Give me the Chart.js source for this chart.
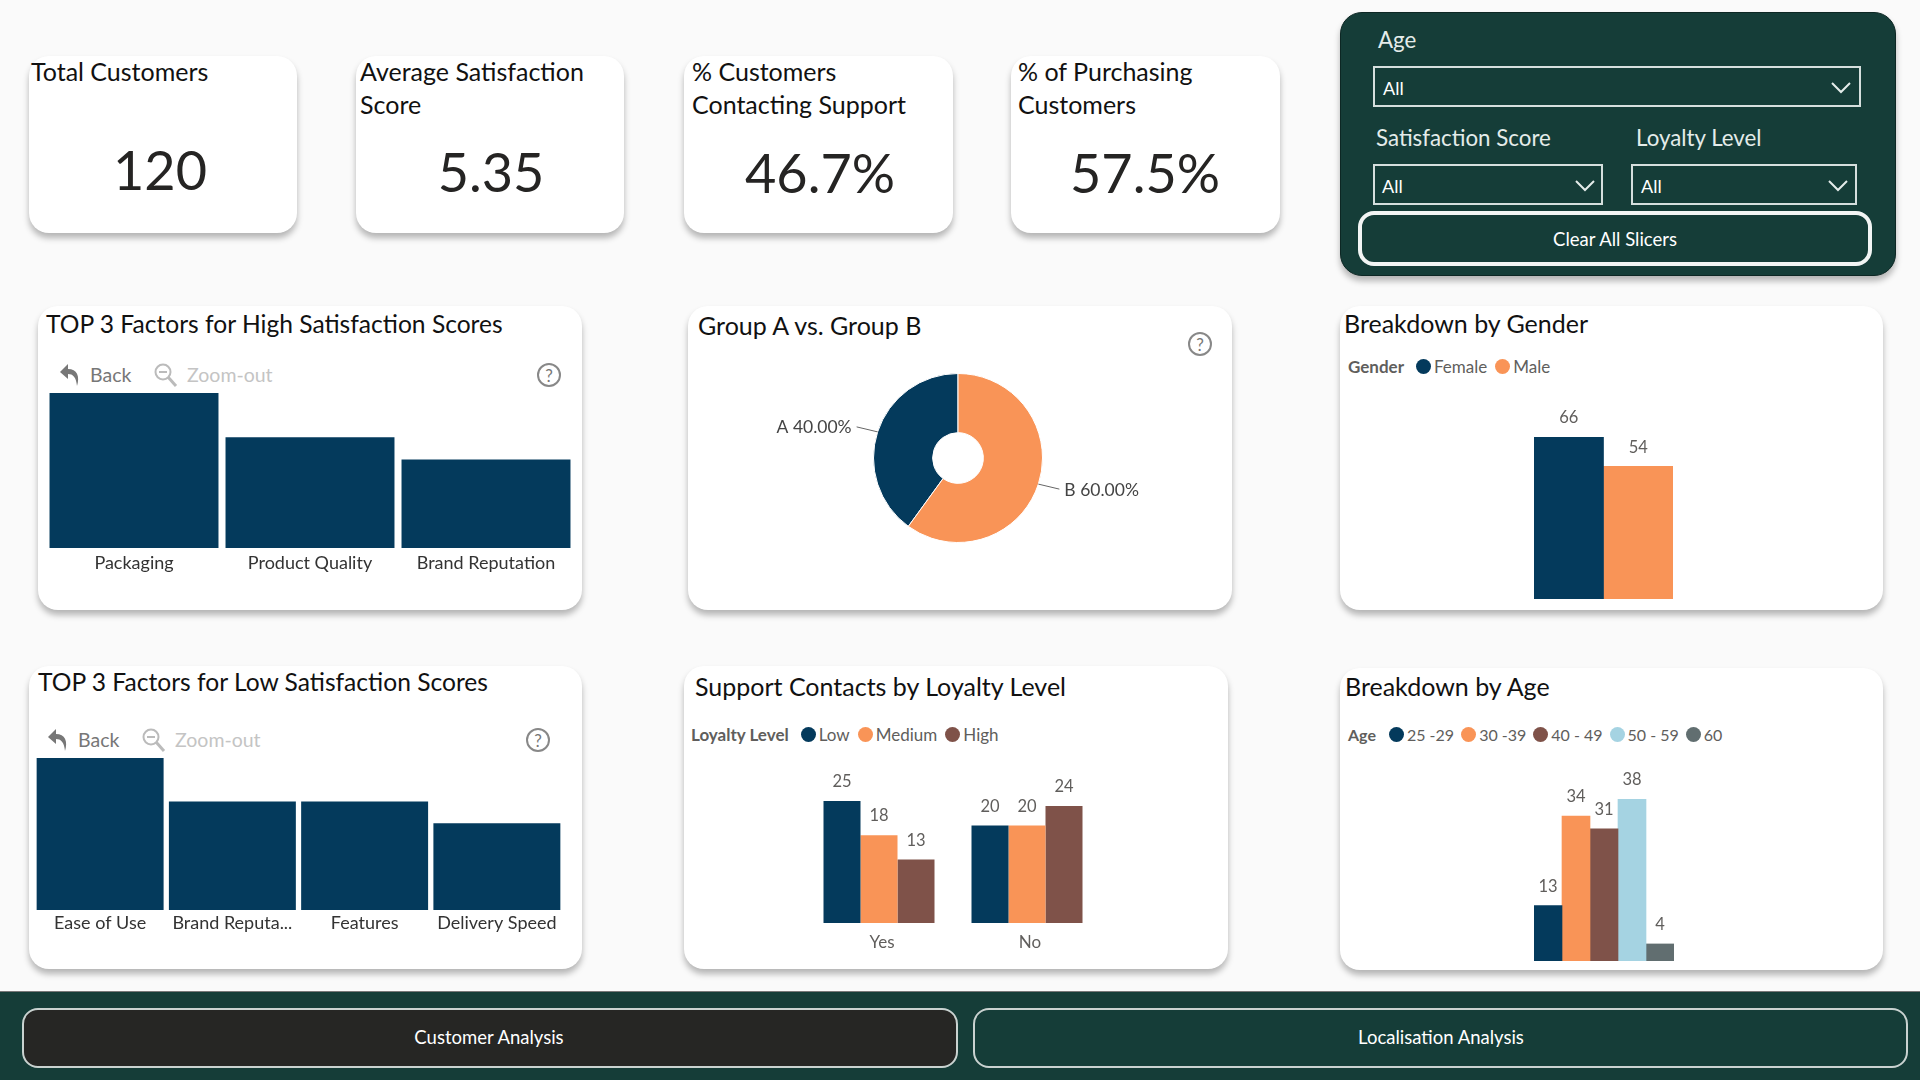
<!DOCTYPE html>
<html lang="en">

<head>
  <meta charset="UTF-8">
  <title>Customer Analysis</title>
  <script src="https://cdn.jsdelivr.net/npm/chart.js"></script>
  <style>
    html, body {
      margin: 0;
      width: 1920px;
      height: 1080px;
      overflow: hidden;
      background: #fafafa;
      font-family: Lato, sans-serif;
      color: #252423;
    }

    .card, .panel, .band, .btn, .drop, .t, .c, canvas, svg, .legend {
      position: absolute;
    }

    .card {
      background: #fff;
      border-radius: 20px;
      box-shadow: 0 5px 6px rgba(0, 0, 0, .28);
    }

    .panel {
      left: 1340px; top: 12px; width: 556px; height: 264px;
      background: #153d38;
      border: 1px solid #0d2724;
      box-sizing: border-box;
      border-radius: 22px;
      box-shadow: 0 5px 6px rgba(0, 0, 0, .28);
    }

    .band {
      left: 0; top: 991px; width: 1920px; height: 89px;
      background: #153d38;
      border-top: 1px solid #777;
      box-sizing: border-box;
    }

    .t, .c { white-space: nowrap; line-height: 1; }
    .t { transform: translateY(-50%); }
    .c { transform: translate(-50%, -50%); }

    .kpi-title { font-size: 25px; color: #111; }
    .kpi-value { font-size: 54px; color: #252423; }
    .title { font-size: 25px; color: #111; }
    .title.long { font-size: 24.6px; }
    .tool { font-size: 19.5px; color: #777; }
    .tool.off { color: #c4c4c4; }
    .help { font-size: 17px; color: #777; }

    .slicer-label { font-size: 22.3px; color: #e4ecea; }
    .slicer-value { font-size: 18px; color: #fff; }
    .drop { border: 2px solid #d5dfdd; box-sizing: border-box; }
    .btn { box-sizing: border-box; border-radius: 16px; }
    .btn-text { font-size: 18.5px; color: #fff; }

    .legend {
      display: flex;
      align-items: center;
      height: 20px;
      font-size: 17px;
      color: #605e5c;
      white-space: nowrap;
    }
    .legend b { margin-right: 12px; }
    .legend i {
      width: 15px; height: 15px;
      border-radius: 50%;
      margin-right: 3px;
    }
    .legend span { margin-right: 8px; }
    #legendAge { font-size: 16px; }
    #legendAge b { margin-right: 13px; }
    #legendAge span { margin-right: 7px; }
  </style>
</head>

<body>
  <!-- KPI cards -->
  <div class="card" style="left:29px;top:56px;width:268px;height:177px"></div>
  <div class="card" style="left:356px;top:56px;width:268px;height:177px"></div>
  <div class="card" style="left:684px;top:56px;width:269px;height:177px"></div>
  <div class="card" style="left:1011px;top:56px;width:269px;height:177px"></div>

  <div class="t kpi-title" style="left:31px;top:71px">Total Customers</div>
  <div class="t kpi-title" style="left:360px;top:71px">Average Satisfaction</div>
  <div class="t kpi-title" style="left:360px;top:104px">Score</div>
  <div class="t kpi-title" style="left:692px;top:71px">% Customers</div>
  <div class="t kpi-title" style="left:692px;top:104px">Contacting Support</div>
  <div class="t kpi-title" style="left:1018px;top:71px">% of Purchasing</div>
  <div class="t kpi-title" style="left:1018px;top:104px">Customers</div>

  <div class="c kpi-value" style="left:160px;top:170px">120</div>
  <div class="c kpi-value" style="left:491px;top:172px">5.35</div>
  <div class="c kpi-value" style="left:820px;top:173px">46.7%</div>
  <div class="c kpi-value" style="left:1145px;top:173px">57.5%</div>

  <!-- Slicers -->
  <div class="panel"></div>
  <div class="t slicer-label" style="left:1378px;top:40px">Age</div>
  <div class="drop" style="left:1373px;top:66px;width:488px;height:41px"></div>
  <div class="t slicer-value" style="left:1383px;top:88px">All</div>
  <svg style="left:1831px;top:82px" width="20" height="12"><polyline points="1,1 10,10 19,1" fill="none" stroke="#e4ecea" stroke-width="2"/></svg>

  <div class="t slicer-label" style="left:1376px;top:138px">Satisfaction Score</div>
  <div class="t slicer-label" style="left:1636px;top:138px">Loyalty Level</div>
  <div class="drop" style="left:1373px;top:164px;width:230px;height:41px"></div>
  <div class="drop" style="left:1631px;top:164px;width:226px;height:41px"></div>
  <div class="t slicer-value" style="left:1382px;top:186px">All</div>
  <div class="t slicer-value" style="left:1641px;top:186px">All</div>
  <svg style="left:1575px;top:180px" width="20" height="12"><polyline points="1,1 10,10 19,1" fill="none" stroke="#e4ecea" stroke-width="2"/></svg>
  <svg style="left:1828px;top:180px" width="20" height="12"><polyline points="1,1 10,10 19,1" fill="none" stroke="#e4ecea" stroke-width="2"/></svg>

  <div class="btn" style="left:1358px;top:211px;width:514px;height:55px;border:4px solid #f2f5f4"></div>
  <div class="c btn-text" style="left:1615px;top:239px">Clear All Slicers</div>

  <!-- Chart cards -->
  <div class="card" style="left:38px;top:306px;width:544px;height:304px"></div>
  <div class="card" style="left:688px;top:306px;width:544px;height:304px"></div>
  <div class="card" style="left:1340px;top:306px;width:543px;height:304px"></div>
  <div class="card" style="left:29px;top:666px;width:553px;height:303px"></div>
  <div class="card" style="left:684px;top:666px;width:544px;height:303px"></div>
  <div class="card" style="left:1340px;top:668px;width:543px;height:302px"></div>

  <div class="t title long" style="left:46px;top:324px">TOP 3 Factors for High Satisfaction Scores</div>
  <div class="t title" style="left:698px;top:325px">Group A vs. Group B</div>
  <div class="t title" style="left:1344px;top:323px">Breakdown by Gender</div>
  <div class="t title long" style="left:38px;top:682px">TOP 3 Factors for Low Satisfaction Scores</div>
  <div class="t title" style="left:695px;top:686px">Support Contacts by Loyalty Level</div>
  <div class="t title" style="left:1345px;top:686px">Breakdown by Age</div>

  <!-- Drill toolbars and help icons -->
  <svg style="left:58px;top:362px" width="24" height="26" viewBox="0 0 24 26"><path d="M10 2 L2 10 L10 17 V12 C15 12 18 15 19 24 C22 14 19 7 10 7 Z" fill="#777"/></svg>
  <div class="t tool" style="left:90px;top:375px">Back</div>
  <svg style="left:153px;top:362px" width="26" height="26" viewBox="0 0 26 26"><circle cx="10" cy="10" r="7.5" fill="none" stroke="#bbb" stroke-width="2"/><line x1="6" y1="10" x2="14" y2="10" stroke="#bbb" stroke-width="2"/><line x1="15" y1="15" x2="23" y2="24" stroke="#bbb" stroke-width="3"/></svg>
  <div class="t tool off" style="left:187px;top:375px">Zoom-out</div>
  <svg style="left:537px;top:363px" width="24" height="24"><circle cx="12" cy="12" r="11" fill="none" stroke="#888" stroke-width="2"/></svg>
  <div class="c help" style="left:549px;top:375px">?</div>

  <svg style="left:1188px;top:332px" width="24" height="24"><circle cx="12" cy="12" r="11" fill="none" stroke="#888" stroke-width="2"/></svg>
  <div class="c help" style="left:1200px;top:344px">?</div>

  <svg style="left:46px;top:727px" width="24" height="26" viewBox="0 0 24 26"><path d="M10 2 L2 10 L10 17 V12 C15 12 18 15 19 24 C22 14 19 7 10 7 Z" fill="#777"/></svg>
  <div class="t tool" style="left:78px;top:740px">Back</div>
  <svg style="left:141px;top:727px" width="26" height="26" viewBox="0 0 26 26"><circle cx="10" cy="10" r="7.5" fill="none" stroke="#bbb" stroke-width="2"/><line x1="6" y1="10" x2="14" y2="10" stroke="#bbb" stroke-width="2"/><line x1="15" y1="15" x2="23" y2="24" stroke="#bbb" stroke-width="3"/></svg>
  <div class="t tool off" style="left:175px;top:740px">Zoom-out</div>
  <svg style="left:526px;top:728px" width="24" height="24"><circle cx="12" cy="12" r="11" fill="none" stroke="#888" stroke-width="2"/></svg>
  <div class="c help" style="left:538px;top:740px">?</div>

  <!-- Legends -->
  <div class="legend" id="legendGender" style="left:1348px;top:356px"></div>
  <div class="legend" id="legendLoyalty" style="left:691px;top:724px"></div>
  <div class="legend" id="legendAge" style="left:1348px;top:724px"></div>

  <!-- Charts -->
  <canvas id="highChart" width="528" height="185" style="left:46px;top:393px"></canvas>
  <canvas id="lowChart" width="529" height="182" style="left:34px;top:758px"></canvas>
  <canvas id="groupChart" width="540" height="300" style="left:688px;top:308px"></canvas>
  <canvas id="genderChart" width="139" height="202" style="left:1534px;top:397px"></canvas>
  <canvas id="loyaltyChart" width="296" height="197" style="left:805px;top:761px"></canvas>
  <canvas id="ageChart" width="140" height="202" style="left:1534px;top:759px"></canvas>

  <!-- Page navigation -->
  <div class="band"></div>
  <div class="btn" style="left:22px;top:1008px;width:936px;height:60px;background:#262624;border:2px solid #c9d2d0"></div>
  <div class="btn" style="left:973px;top:1008px;width:935px;height:60px;border:2px solid #c9d2d0"></div>
  <div class="c btn-text" style="left:489px;top:1037px">Customer Analysis</div>
  <div class="c btn-text" style="left:1441px;top:1037px">Localisation Analysis</div>

  <script>
    // Datos del grafico
    const highFactors = ['Packaging', 'Product Quality', 'Brand Reputation'];
    const highCounts = [7, 5, 4];

    const lowFactors = ['Ease of Use', 'Brand Reputa...', 'Features', 'Delivery Speed'];
    const lowCounts = [7, 5, 5, 4];

    const groupLabels = ['A', 'B'];
    const groupShares = [40, 60];

    const genderLabels = ['Female', 'Male'];
    const genderCounts = [66, 54];

    const supportAnswers = ['Yes', 'No'];
    const loyaltyLevels = ['Low', 'Medium', 'High'];
    const lowContacts = [25, 20];
    const mediumContacts = [18, 20];
    const highContacts = [13, 24];

    const ageLabels = ['25 -29', '30 -39', '40 - 49', '50 - 59', '60'];
    const ageCounts = [13, 34, 31, 38, 4];

    const navy = '#043a5c';
    const orange = '#f99457';
    const brown = '#7f5249';
    const lightBlue = '#a5d3e2';
    const slate = '#616e70';
    const palette = [navy, orange, brown, lightBlue, slate];

    Chart.defaults.font.family = 'Lato, sans-serif';
    Chart.defaults.animation = false;
    Chart.defaults.responsive = false;

    // Values above each bar, read from the bar elements
    const valueLabels = {
      id: 'valueLabels',
      afterDatasetsDraw(chart) {
        const ctx = chart.ctx;
        ctx.save();
        ctx.font = '16.5px Lato, sans-serif';
        ctx.fillStyle = '#605e5c';
        ctx.textAlign = 'center';
        ctx.textBaseline = 'middle';
        chart.data.datasets.forEach((ds, i) => {
          chart.getDatasetMeta(i).data.forEach((bar, j) => {
            ctx.fillText(ds.data[j], bar.x, bar.y - 19);
          });
        });
        ctx.restore();
      }
    };

    // Labels with leader lines for the doughnut
    const sliceLabels = {
      id: 'sliceLabels',
      afterDatasetsDraw(chart) {
        const ctx = chart.ctx;
        const total = groupShares.reduce((a, b) => a + b, 0);
        ctx.save();
        ctx.font = '17.5px Lato, sans-serif';
        ctx.textBaseline = 'middle';
        chart.getDatasetMeta(0).data.forEach((arc, i) => {
          const mid = (arc.startAngle + arc.endAngle) / 2;
          const x0 = arc.x + Math.cos(mid) * arc.outerRadius;
          const y0 = arc.y + Math.sin(mid) * arc.outerRadius;
          const side = Math.cos(mid) < 0 ? -1 : 1;
          const x1 = x0 + side * 21;
          const y1 = y0 + (Math.sin(mid) < 0 ? -5 : 5);
          ctx.strokeStyle = '#666';
          ctx.lineWidth = 1;
          ctx.beginPath();
          ctx.moveTo(x0, y0);
          ctx.lineTo(x1, y1);
          ctx.stroke();
          ctx.fillStyle = '#444';
          ctx.textAlign = side < 0 ? 'right' : 'left';
          const pct = (groupShares[i] / total * 100).toFixed(2) + '%';
          ctx.fillText(groupLabels[i] + ' ' + pct, x1 + side * 5, y1 + (side < 0 ? 0 : 1));
        });
        ctx.restore();
      }
    };

    function flatBars(id, labels, values, axisHeight, yMax, tickPad) {
      new Chart(document.getElementById(id), {
        type: 'bar',
        data: {
          labels: labels,
          datasets: [{ data: values, backgroundColor: navy, barPercentage: 0.96, categoryPercentage: 1 }]
        },
        options: {
          layout: { padding: 0 },
          plugins: { legend: { display: false }, tooltip: { enabled: false } },
          scales: {
            x: {
              grid: { display: false, drawTicks: false },
              border: { display: false },
              afterFit(scale) { scale.height = axisHeight; },
              ticks: { color: '#333', font: { size: 18 }, padding: tickPad, maxRotation: 0, autoSkip: false }
            },
            y: { display: false, min: 0, max: yMax }
          }
        }
      });
    }

    function groupedBars(id, labels, series, yMax, topPad, catPct, axisHeight) {
      new Chart(document.getElementById(id), {
        type: 'bar',
        data: {
          labels: labels,
          datasets: series.map((values, i) => ({
            data: values,
            backgroundColor: palette[i],
            barPercentage: 1,
            categoryPercentage: catPct
          }))
        },
        options: {
          layout: { padding: { top: topPad } },
          plugins: { legend: { display: false }, tooltip: { enabled: false } },
          scales: {
            x: axisHeight ? {
              grid: { display: false, drawTicks: false },
              border: { display: false },
              afterFit(scale) { scale.height = axisHeight; },
              ticks: { color: '#605e5c', font: { size: 17 }, padding: 9, labelOffset: 3 }
            } : { display: false },
            y: { display: false, min: 0, max: yMax }
          }
        },
        plugins: [valueLabels]
      });
    }

    function fillLegend(id, title, names) {
      const box = document.getElementById(id);
      const head = document.createElement('b');
      head.textContent = title;
      box.appendChild(head);
      names.forEach((name, i) => {
        const dot = document.createElement('i');
        dot.style.background = palette[i];
        const text = document.createElement('span');
        text.textContent = name;
        box.appendChild(dot);
        box.appendChild(text);
      });
    }

    flatBars('highChart', highFactors, highCounts, 30, 7, 4);
    flatBars('lowChart', lowFactors, lowCounts, 30, 7, 2);

    new Chart(document.getElementById('groupChart'), {
      type: 'doughnut',
      data: {
        labels: groupLabels,
        datasets: [{ data: groupShares, backgroundColor: [navy, orange], borderColor: '#fff', borderWidth: 1 }]
      },
      options: {
        rotation: 216,
        cutout: '30%',
        layout: { padding: 65 },
        plugins: { legend: { display: false }, tooltip: { enabled: false } }
      },
      plugins: [sliceLabels]
    });

    groupedBars('genderChart', ['Gender'], genderCounts.map(v => [v]), 66, 40, 1, 0);
    groupedBars('loyaltyChart', supportAnswers, [lowContacts, mediumContacts, highContacts], 25, 40, 0.75, 35);
    groupedBars('ageChart', ['Age'], ageCounts.map(v => [v]), 38, 40, 1, 0);

    fillLegend('legendGender', 'Gender', genderLabels);
    fillLegend('legendLoyalty', 'Loyalty Level', loyaltyLevels);
    fillLegend('legendAge', 'Age', ageLabels);
  </script>
</body>

</html>
